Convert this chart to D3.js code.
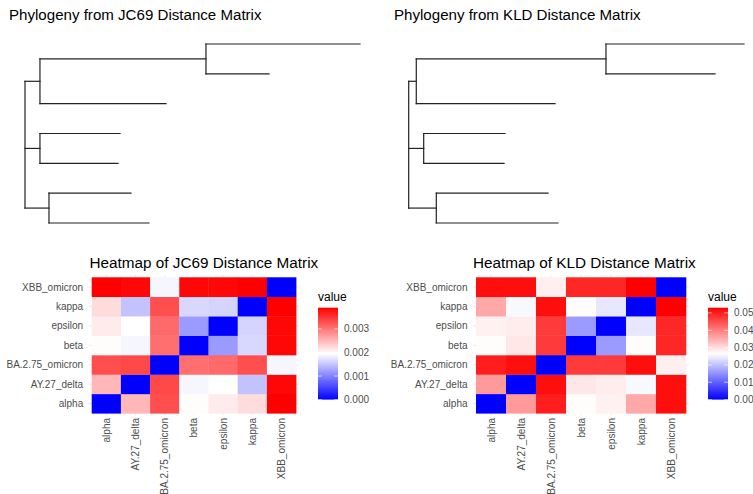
<!DOCTYPE html>
<html>
<head>
<meta charset="utf-8">
<script src="https://cdn.jsdelivr.net/npm/d3@7/dist/d3.min.js"></script>
<style>
  html, body { margin: 0; padding: 0; background: #fff; }
  svg { display: block; font-family: "Liberation Sans", Arial, Helvetica, sans-serif; }
</style>
</head>
<body>
<svg id="chart" width="753" height="494"></svg>
<script>
// ---------------- DATA ----------------
const labels = ["alpha", "AY.27_delta", "BA.2.75_omicron", "beta", "epsilon", "kappa", "XBB_omicron"];

// JC69 distance matrix (rows/cols in `labels` order)
const jc69Matrix = [
  [0,       0.00250, 0.00330, 0.00197, 0.00210, 0.00222, 0.00390],
  [0.00250, 0,       0.00335, 0.00188, 0.00195, 0.00148, 0.00385],
  [0.00330, 0.00335, 0,       0.00305, 0.00310, 0.00330, 0.00188],
  [0.00197, 0.00188, 0.00305, 0,       0.00118, 0.00165, 0.00385],
  [0.00210, 0.00195, 0.00310, 0.00118, 0,       0.00162, 0.00385],
  [0.00222, 0.00148, 0.00330, 0.00165, 0.00162, 0,       0.00390],
  [0.00390, 0.00385, 0.00188, 0.00385, 0.00385, 0.00390, 0]
];

// KLD distance matrix (rows/cols in `labels` order)
const kldMatrix = [
  [0,      0.0370, 0.0500, 0.0268, 0.0280, 0.0355, 0.0515],
  [0.0370, 0,      0.0515, 0.0290, 0.0285, 0.0258, 0.0515],
  [0.0500, 0.0515, 0,      0.0470, 0.0470, 0.0515, 0.0282],
  [0.0268, 0.0290, 0.0470, 0,      0.0160, 0.0268, 0.0490],
  [0.0280, 0.0285, 0.0470, 0.0160, 0,      0.0240, 0.0490],
  [0.0355, 0.0258, 0.0515, 0.0268, 0.0240, 0,      0.0530],
  [0.0515, 0.0515, 0.0282, 0.0490, 0.0490, 0.0530, 0]
];

const jc69Ticks = [0, 0.001, 0.002, 0.003];
const kldTicks = [0, 0.01, 0.02, 0.03, 0.04, 0.05];

// Trees: [node, parent, branch length]
const jc69Tree = [
  ["root", null, 0],
  ["n1", "root", 0.000131],
  ["n2", "n1", 0.001454],
  ["XBB_omicron", "n2", 0.001349],
  ["BA.2.75_omicron", "n2", 0.000552],
  ["kappa", "n1", 0.001104],
  ["n3", "root", 0.000131],
  ["beta", "n3", 0.000701],
  ["epsilon", "n3", 0.000683],
  ["n4", "root", 0.000210],
  ["alpha", "n4", 0.000718],
  ["AY.27_delta", "n4", 0.000876]
];
const kldTree = [
  ["root", null, 0],
  ["n1", "root", 0.00086],
  ["n2", "n1", 0.02151],
  ["XBB_omicron", "n2", 0.01565],
  ["BA.2.75_omicron", "n2", 0.01236],
  ["kappa", "n1", 0.01573],
  ["n3", "root", 0.00170],
  ["beta", "n3", 0.00922],
  ["epsilon", "n3", 0.00911],
  ["n4", "root", 0.00313],
  ["alpha", "n4", 0.01267],
  ["AY.27_delta", "n4", 0.01380]
];

// ---------------- DRAW ----------------
const svg = d3.select("#chart");
svg.append("rect").attr("width", 753).attr("height", 494).attr("fill", "#fff");

function drawTree(rows, title, titleX, xRange) {
  const g = svg.append("g");
  g.append("text").attr("x", titleX).attr("y", 19.5)
    .attr("font-size", 15.1).attr("fill", "#000").text(title);

  const root = d3.stratify().id(d => d[0]).parentId(d => d[1])(rows);
  root.eachBefore(n => { n.depthLen = n.parent ? n.parent.depthLen + n.data[2] : 0; });
  const leaves = root.leaves();
  const maxDepth = d3.max(leaves, l => l.depthLen);
  const x = d3.scaleLinear().domain([0, maxDepth]).range(xRange);
  const y = d3.scaleLinear().domain([0, leaves.length - 1]).range([44, 223]);
  leaves.forEach((l, i) => { l.yPos = y(i); });
  root.eachAfter(n => { if (n.children) n.yPos = d3.mean(n.children, c => c.yPos); });

  const segs = [];
  root.each(n => {
    if (n.parent) segs.push([x(n.parent.depthLen), n.yPos, x(n.depthLen), n.yPos]);
    if (n.children) {
      const ys = n.children.map(c => c.yPos);
      segs.push([x(n.depthLen), d3.min(ys), x(n.depthLen), d3.max(ys)]);
    }
  });
  g.selectAll("line.branch").data(segs).join("line")
    .attr("class", "branch")
    .attr("x1", d => d[0]).attr("y1", d => d[1])
    .attr("x2", d => d[2]).attr("y2", d => d[3])
    .attr("stroke", "#222").attr("stroke-width", 1.2)
    .attr("stroke-linecap", "square");
}

function drawHeatmap(matrix, ticks, fmt, title, opts) {
  const g = svg.append("g");
  const flat = matrix.flat();
  const vmin = d3.min(flat), vmax = d3.max(flat);
  const mid = (vmin + vmax) / 2;
  const toBlue = d3.interpolateRgb("#0000ff", "#ffffff");
  const toRed = d3.interpolateRgb("#ffffff", "#ff0000");
  const color = v => v <= mid ? toBlue((v - vmin) / (mid - vmin)) : toRed((v - mid) / (vmax - mid));

  const x = d3.scaleBand().domain(labels).range([opts.left, opts.right]).padding(0);
  const y = d3.scaleBand().domain(labels.slice().reverse()).range([277.3, 413.3]).padding(0);
  const bw = x.bandwidth(), bh = y.bandwidth();

  // title
  g.append("text").attr("x", opts.titleX).attr("y", 267.5)
    .attr("font-size", 15.3).attr("fill", "#000").text(title);

  // faint grid
  const ext = 0.1;
  labels.forEach(l => {
    g.append("line").attr("x1", x(l) + bw / 2).attr("x2", x(l) + bw / 2)
      .attr("y1", 277.3 - ext * bh).attr("y2", 413.3 + ext * bh)
      .attr("stroke", "#ebebeb").attr("stroke-width", 1);
    g.append("line").attr("y1", y(l) + bh / 2).attr("y2", y(l) + bh / 2)
      .attr("x1", opts.left - ext * bw).attr("x2", opts.right + ext * bw)
      .attr("stroke", "#ebebeb").attr("stroke-width", 1);
  });

  const cells = [];
  matrix.forEach((row, i) => row.forEach((v, j) => cells.push({ r: labels[i], c: labels[j], v })));
  g.selectAll("rect.cell").data(cells).join("rect")
    .attr("class", "cell")
    .attr("x", d => x(d.c)).attr("y", d => y(d.r))
    .attr("width", bw + 0.3).attr("height", bh + 0.3)
    .attr("fill", d => color(d.v));

  // y labels
  g.selectAll("text.ylab").data(labels).join("text")
    .attr("class", "ylab")
    .attr("x", opts.left - 8.5).attr("y", d => y(d) + bh / 2)
    .attr("dy", "0.35em").attr("text-anchor", "end")
    .attr("font-size", 10).attr("fill", "#4d4d4d").text(d => d);

  // x labels
  g.selectAll("text.xlab").data(labels).join("text")
    .attr("class", "xlab")
    .attr("transform", d => `translate(${x(d) + bw / 2},418) rotate(-90)`)
    .attr("dy", "0.35em").attr("text-anchor", "end")
    .attr("font-size", 10).attr("fill", "#4d4d4d").text(d => d);

  // legend
  const lg = g.append("g");
  lg.append("text").attr("x", opts.legX).attr("y", 301)
    .attr("font-size", 12).attr("fill", "#000").text("value");
  const barTop = 307.7, barBottom = 399.6, barW = 20;
  const ly = d3.scaleLinear().domain([vmin, vmax]).range([barBottom, barTop]);
  const gradId = "grad" + opts.legX;
  const grad = svg.append("defs").append("linearGradient").attr("id", gradId)
    .attr("x1", 0).attr("y1", 1).attr("x2", 0).attr("y2", 0);
  d3.range(0, 41).forEach(k => {
    const t = k / 40;
    grad.append("stop").attr("offset", t).attr("stop-color", color(vmin + t * (vmax - vmin)));
  });
  lg.append("rect").attr("x", opts.legX).attr("y", barTop)
    .attr("width", barW).attr("height", barBottom - barTop)
    .attr("fill", `url(#${gradId})`);
  ticks.forEach(t => {
    const yy = ly(t);
    lg.append("line").attr("x1", opts.legX).attr("x2", opts.legX + 4).attr("y1", yy).attr("y2", yy)
      .attr("stroke", "#fff").attr("stroke-opacity", 0.6);
    lg.append("line").attr("x1", opts.legX + barW - 4).attr("x2", opts.legX + barW).attr("y1", yy).attr("y2", yy)
      .attr("stroke", "#fff").attr("stroke-opacity", 0.6);
    lg.append("text").attr("x", opts.legX + barW + 6).attr("y", yy).attr("dy", "0.35em")
      .attr("font-size", 10).attr("fill", "#4d4d4d").text(fmt(t));
  });
}

drawTree(jc69Tree, "Phylogeny from JC69 Distance Matrix", 9, [25, 360]);
drawTree(kldTree, "Phylogeny from KLD Distance Matrix", 394, [408.7, 744]);

drawHeatmap(jc69Matrix, jc69Ticks, d3.format(".3f"), "Heatmap of JC69 Distance Matrix",
  { left: 91.7, right: 296.1, titleX: 89.5, legX: 318 });
drawHeatmap(kldMatrix, kldTicks, d3.format(".2f"), "Heatmap of KLD Distance Matrix",
  { left: 476, right: 686, titleX: 473, legX: 708 });
</script>
</body>
</html>
